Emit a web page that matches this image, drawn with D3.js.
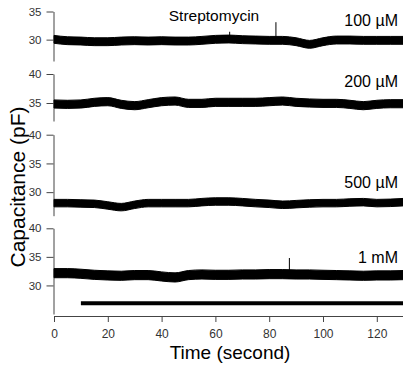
<!DOCTYPE html>
<html>
<head>
	<meta http-equiv="Content-Type" content="text/html;charset=utf-8">
	<title>Capacitance traces</title>
	<script src="https://d3js.org/d3.v7.min.js"></script>
	<style type="text/css">
    body { margin: 0; background: #fff; }
    text { font-family: "Liberation Sans", Arial, sans-serif; }
    .axis path, .axis line { stroke: #444; stroke-width: 1px; }
    .axis text { fill: #333; font-size: 11.5px; }
	</style>
</head>
<body>
	<svg width="403" height="367"></svg>
  <script type='text/javascript'>
    // sample times (s) for the traced baselines
    const times = d3.range(0, 131, 5);

    const labels = ['100 \u00b5M', '200 \u00b5M', '500 \u00b5M', '1 mM'];

    // baseline capacitance (pF), every 5 s
    const trace100uM = [30.05, 29.81, 29.75, 29.63, 29.63, 29.75, 29.81, 29.75, 29.81, 29.75, 29.75, 29.87, 30.05, 30.11,
      29.99, 29.93, 29.87, 29.87, 29.63, 29.16, 29.63, 29.93, 29.93, 29.87, 29.87, 29.87, 29.87];
    const trace200uM = [34.83, 34.77, 34.83, 35.12, 35.23, 34.77, 34.54, 34.88, 35.23, 35.34, 34.94, 34.94, 35.12, 35.12,
      35.12, 35.12, 35.23, 35.34, 35.12, 35.0, 34.94, 34.94, 34.77, 34.54, 34.77, 34.88, 34.88];
    const trace500uM = [28.09, 28.09, 28.03, 27.97, 27.68, 27.39, 27.80, 28.09, 28.09, 28.09, 28.09, 28.26, 28.37, 28.37,
      28.26, 28.09, 27.97, 27.80, 27.91, 28.03, 28.09, 28.09, 28.2, 28.26, 28.09, 28.14, 28.26];
    const trace1mM = [32.15, 32.15, 32.04, 31.86, 31.75, 31.69, 31.81, 31.81, 31.57, 31.40, 31.81, 31.92, 31.86, 31.86,
      31.92, 31.92, 31.98, 31.98, 31.92, 31.92, 31.86, 31.81, 31.75, 31.69, 31.75, 31.75, 31.81];

    // noise half-amplitude of each trace (pF)
    const noise = [0.7, 0.7, 0.65, 0.8];

    // artefact spikes: [time, peak value]
    const spikes = [[[65.3, 31.4], [82.5, 33.1]], [], [], [[87.5, 34.8]]];

    // y ticks per panel
    const yTicks = [[30, 35], [35, 40], [30, 35, 40], [30, 35, 40]];
    const yDomains = [[26.2, 35], [31.9, 40], [25.9, 40], [25, 40]];

    const xTicks = [0, 20, 40, 60, 80, 100, 120];
    const streptomycin = [10, 130]; // application period (s)

    const traces = [trace100uM, trace200uM, trace500uM, trace1mM];

    const svg = d3.select('svg');

    // layout
    const axisX = 53.5;
    const panelRanges = [[61, 11.5], [121, 74], [215.7, 134.7], [314, 228.3]];
    const labelY = [26, 87.3, 188.3, 263.3];

    const x = d3.scaleLinear().domain([0, 130]).range([54, 403.7]);

    traces.forEach((tr, i) => {
      const y = d3.scaleLinear().domain(yDomains[i]).range(panelRanges[i]);

      svg.append('g')
        .attr('class', 'axis')
        .attr('transform', `translate(${axisX},0)`)
        .call(d3.axisLeft(y).tickValues(yTicks[i]).tickSize(7).tickSizeOuter(0).tickPadding(5))
        .call(g => g.selectAll('text').attr('font-family', null).attr('font-size', null));

      const pts = times.map((t, k) => ({ t: t, v: tr[k] }));

      svg.append('path')
        .datum(pts)
        .attr('fill', '#000')
        .attr('stroke', '#000')
        .attr('stroke-width', 1)
        .attr('d', d3.area()
          .x(d => x(d.t))
          .y0(d => y(d.v - noise[i]))
          .y1(d => y(d.v + noise[i]))
          .curve(d3.curveMonotoneX));

      spikes[i].forEach(s => {
        const base = d3.interpolateNumber(tr[Math.floor(s[0] / 5)], tr[Math.ceil(s[0] / 5)])((s[0] % 5) / 5);
        svg.append('line')
          .attr('x1', x(s[0])).attr('x2', x(s[0]))
          .attr('y1', y(base)).attr('y2', y(s[1]))
          .attr('stroke', '#000').attr('stroke-width', 1);
      });

      svg.append('text')
        .attr('x', 398)
        .attr('y', labelY[i])
        .attr('text-anchor', 'end')
        .attr('font-size', 16)
        .text(labels[i]);
    });

    svg.append('text')
      .attr('x', 214)
      .attr('y', 20.7)
      .attr('text-anchor', 'middle')
      .attr('font-size', 15.5)
      .text('Streptomycin');

    // treatment bar
    svg.append('line')
      .attr('x1', x(streptomycin[0]))
      .attr('x2', x(streptomycin[1]))
      .attr('y1', 303.3)
      .attr('y2', 303.3)
      .attr('stroke', '#000')
      .attr('stroke-width', 4);

    svg.append('g')
      .attr('class', 'axis')
      .attr('transform', 'translate(0,316)')
      .call(d3.axisBottom(x).tickValues(xTicks).tickSize(6).tickSizeOuter(0).tickPadding(7))
      .call(g => g.selectAll('text').attr('font-family', null).attr('font-size', null).style('font-size', '12px'));

    svg.append('text')
      .attr('x', 230)
      .attr('y', 359)
      .attr('text-anchor', 'middle')
      .attr('font-size', 19)
      .text('Time (second)');

    svg.append('text')
      .attr('transform', 'translate(25,187) rotate(-90)')
      .attr('text-anchor', 'middle')
      .attr('font-size', 21)
      .text('Capacitance (pF)');
  </script>
</body>
</html>
